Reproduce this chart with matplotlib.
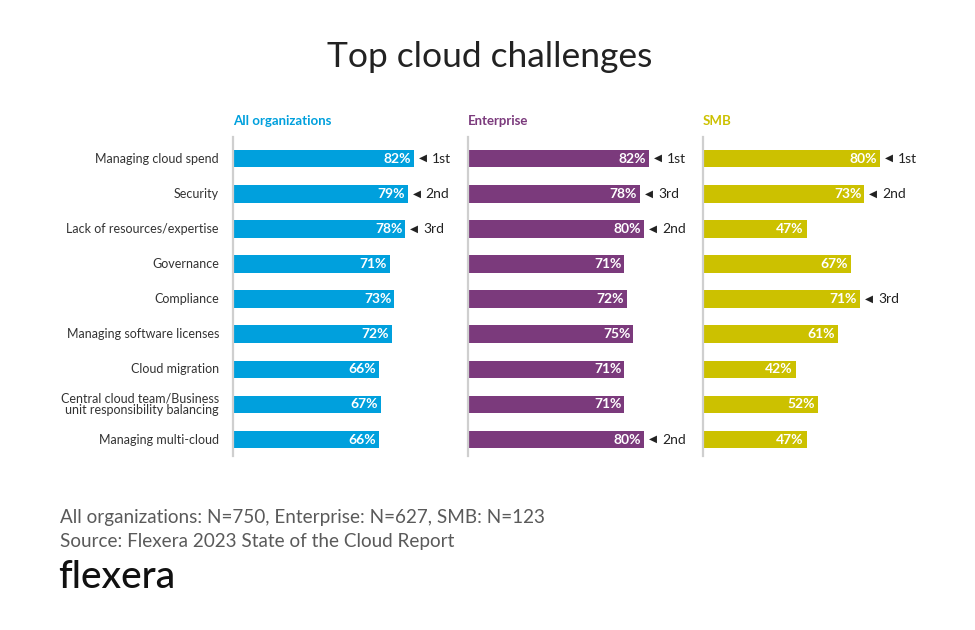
import matplotlib
matplotlib.use("Agg")
import matplotlib.pyplot as plt

plt.rcParams['font.family'] = ['Lato', 'DejaVu Sans']

categories = ["Managing cloud spend", "Security", "Lack of resources/expertise",
              "Governance", "Compliance", "Managing software licenses",
              "Cloud migration", "Central cloud team/Business\nunit responsibility balancing",
              "Managing multi-cloud"]

groups = ["All organizations", "Enterprise", "SMB"]
all_orgs = [82, 79, 78, 71, 73, 72, 66, 67, 66]
enterprise = [82, 78, 80, 71, 72, 75, 71, 71, 80]
smb = [80, 73, 47, 67, 71, 61, 42, 52, 47]
all_rank = ["1st", "2nd", "3rd", "", "", "", "", "", ""]
ent_rank = ["1st", "3rd", "2nd", "", "", "", "", "", "2nd"]
smb_rank = ["1st", "2nd", "", "", "3rd", "", "", "", ""]

colors = ["#00A0DD", "#7B3A7C", "#CCC100"]
series = [all_orgs, enterprise, smb]
ranks = [all_rank, ent_rank, smb_rank]

W, H = 975, 630
fig = plt.figure(figsize=(W / 100, H / 100), dpi=100)

# panel left edges in pixels
lefts = [233, 467.5, 703]
top_px, bot_px = 136.7, 455.7
px_per_pct = 2.21

for k in range(3):
    ax = fig.add_axes([lefts[k] / W, 1 - bot_px / H, 100 * px_per_pct / W, (bot_px - top_px) / H])
    vals = series[k]
    y = list(range(len(vals)))
    ax.barh(y, vals, height=0.5, color=colors[k])
    ax.set_xlim(0, 100)
    ax.set_ylim(8.46, -0.627)
    for s in ["top", "right", "bottom"]:
        ax.spines[s].set_visible(False)
    ax.spines["left"].set_color("#cfcfcf")
    ax.spines["left"].set_linewidth(1.6)
    ax.set_xticks([])
    ax.set_yticks([])
    for i, v in enumerate(vals):
        ax.annotate(f"{v}%", (v, i), xytext=(-3, 0), textcoords="offset pixels",
                    ha="right", va="center", color="white", fontsize=10, fontweight="bold")
        if ranks[k][i]:
            ax.annotate("◀", (v, i), xytext=(5, 0), textcoords="offset pixels",
                        ha="left", va="center", color="#222222", fontsize=7.5)
            ax.annotate(ranks[k][i], (v, i), xytext=(18, 0), textcoords="offset pixels",
                        ha="left", va="center", color="#222222", fontsize=10)
    if k == 0:
        for i, c in enumerate(categories):
            ax.annotate(c, (0, i), xytext=(-14, 0), textcoords="offset pixels",
                        ha="right", va="center", color="#333333", fontsize=9,
                        linespacing=1.0)
    fig.text(lefts[k] / W, 1 - 121 / H, groups[k], ha="left", va="center",
             color=colors[k], fontsize=9.5, fontweight="bold")

fig.text(490 / W, 1 - 57 / H, "Top cloud challenges", ha="center", va="center",
         fontsize=25.5, color="#222222")
fig.text(60 / W, 1 - 518 / H, "All organizations: N=750, Enterprise: N=627, SMB: N=123",
         ha="left", va="center", fontsize=13.6, color="#5a5a5a")
fig.text(60 / W, 1 - 542 / H, "Source: Flexera 2023 State of the Cloud Report",
         ha="left", va="center", fontsize=13.6, color="#5a5a5a")
fig.text(58 / W, 1 - 577 / H, "flexera", ha="left", va="center",
         fontsize=28, color="#111111", fontweight="medium")

fig.savefig("out.png", dpi=100, facecolor="white")
